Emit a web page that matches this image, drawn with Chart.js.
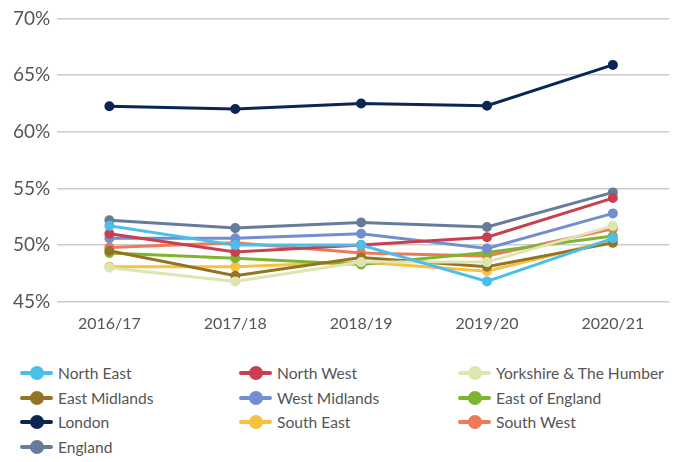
<!DOCTYPE html>
<html>
<head>
<meta charset="utf-8">
<script src="https://cdn.jsdelivr.net/npm/chart.js@4"></script>
<style>
    body { margin: 0; background: #fff; font-family: Lato, "Open Sans", sans-serif; }
    #wrap { position: relative; width: 682px; height: 337px; }
    #legenda {
        display: grid;
        grid-template-columns: 219px 219px 220px;
        grid-auto-rows: 24.6px;
        padding-left: 20px;
        margin-top: 23.7px;
        color: #555;
        font-size: 15.6px;
    }
    .item { display: flex; align-items: center; }
    .marca { position: relative; width: 33px; height: 14px; margin-right: 5px; flex: none; }
    .marca .linha { position: absolute; left: 0; right: 0; top: 5px; height: 4px; border-radius: 2px; }
    .marca .ponto { position: absolute; left: 9.5px; top: 0; width: 14px; height: 14px; border-radius: 50%; }
</style>
</head>
<body>
<div id="wrap"><canvas id="grafico"></canvas></div>
<div id="legenda"></div>
<script>
const anos = ['2016/17', '2017/18', '2018/19', '2019/20', '2020/21'];

const regioes = [
    'North East', 'North West', 'Yorkshire & The Humber',
    'East Midlands', 'West Midlands', 'East of England',
    'London', 'South East', 'South West', 'England'
];

const cores = [
    '#4BBFEA', '#C8404E', '#DDE6B0',
    '#957325', '#718FCF', '#7FB52E',
    '#0B2653', '#F5C242', '#EF7A5A', '#677C9B'
];

const northEast = [51.7, 50.0, 50.0, 46.8, 50.6];
const northWest = [51.0, 49.4, 50.0, 50.7, 54.15];
const yorkshire = [48.0, 46.8, 48.5, 48.5, 51.7];
const eastMidlands = [49.5, 47.3, 48.9, 48.1, 50.2];
const westMidlands = [50.6, 50.6, 51.0, 49.7, 52.8];
const eastOfEngland = [49.3, 48.85, 48.3, 49.35, 50.8];
const london = [62.25, 62.0, 62.5, 62.3, 65.9];
const southEast = [48.1, 48.1, 48.5, 47.7, 50.45];
const southWest = [49.8, 50.2, 49.3, 49.05, 51.45];
const england = [52.2, 51.5, 52.0, 51.6, 54.65];

const valores = [
    northEast, northWest, yorkshire,
    eastMidlands, westMidlands, eastOfEngland,
    london, southEast, southWest, england
];

const ctx = document.getElementById('grafico').getContext('2d');

const datasets = regioes.map((nome, i) => ({
    label: nome,
    data: valores[i].map((v, j) => ({ x: j, y: v })),
    borderColor: cores[i],
    backgroundColor: cores[i],
    borderWidth: 3,
    pointRadius: 3.5,
    pointHoverRadius: 3.5,
    tension: 0
}));

const grafico = new Chart(ctx, {
    type: 'line',
    data: { datasets },
    options: {
        responsive: true,
        maintainAspectRatio: false,
        animation: false,
        layout: { padding: { left: 6, right: 13, top: 10.5, bottom: 0 } },
        plugins: { legend: { display: false }, tooltip: { enabled: false } },
        scales: {
            x: {
                type: 'linear',
                min: -0.414,
                max: 4.446,
                afterBuildTicks: (eixo) => {
                    eixo.ticks = anos.map((a, i) => ({ value: i }));
                },
                ticks: {
                    callback: (v) => anos[v],
                    color: '#555',
                    font: { family: 'Lato', size: 16 },
                    padding: 4
                },
                grid: { display: false },
                border: { display: false }
            },
            y: {
                min: 45,
                max: 70,
                ticks: {
                    stepSize: 5,
                    callback: (v) => v + '%',
                    color: '#555',
                    font: { family: 'Lato', size: 19 },
                    padding: 7
                },
                grid: { color: '#cccccc', lineWidth: 1.5, drawTicks: false },
                border: { display: false }
            }
        }
    }
});

const legenda = document.getElementById('legenda');
regioes.forEach((nome, i) => {
    const item = document.createElement('div');
    item.className = 'item';
    item.innerHTML = `
        <span class="marca"><span class="linha" style="background:${cores[i]}"></span><span class="ponto" style="background:${cores[i]}"></span></span>
        <span>${nome}</span>
    `;
    legenda.appendChild(item);
});
</script>
</body>
</html>
